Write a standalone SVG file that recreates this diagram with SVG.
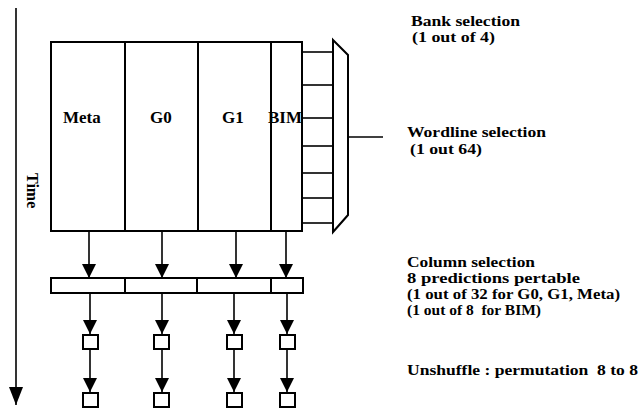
<svg xmlns="http://www.w3.org/2000/svg" width="639" height="409" viewBox="0 0 639 409">
<style>
.box{fill:#fff;stroke:#000;stroke-width:2}
.ln{fill:none;stroke:#000;stroke-width:1.6}
.lbl{font-family:"Liberation Serif","Times New Roman",serif;font-weight:bold;font-size:17px;fill:#000}
.note{font-family:"Liberation Serif","Times New Roman",serif;font-weight:bold;font-size:15px;fill:#000}
</style>
<defs>
<marker id="ah" markerUnits="userSpaceOnUse" markerWidth="14" markerHeight="16" refX="14" refY="7" orient="auto">
<path d="M0,0 L14,7 L0,14 Z" fill="#000"/>
</marker>
<marker id="ahBig" markerUnits="userSpaceOnUse" markerWidth="18" markerHeight="14" refX="18" refY="7" orient="auto">
<path d="M0,0 L18,7 L0,14 Z" fill="#000"/>
</marker>
</defs>
<rect width="639" height="409" fill="#fff"/>

<g id="time-axis">
<line class="ln" x1="16" y1="8" x2="16" y2="405" marker-end="url(#ahBig)"/>
<text transform="translate(27,173) rotate(90)" font-family="Liberation Serif,'Times New Roman',serif" font-weight="bold" font-size="16">Time</text>
</g>

<g id="meta"><rect class="box" x="51" y="42" width="74" height="189"/><text class="lbl" x="63" y="123">Meta</text></g>
<g id="g0"><rect class="box" x="125" y="42" width="73" height="189"/><text class="lbl" x="150" y="123">G0</text></g>
<g id="g1"><rect class="box" x="198" y="42" width="73" height="189"/><text class="lbl" x="222" y="123">G1</text></g>
<g id="bim"><rect class="box" x="271" y="42" width="31" height="189"/><text class="lbl" x="268" y="123">BIM</text></g>

<g id="wordlines">
<line class="ln" x1="302" y1="52" x2="333" y2="52"/>
<line class="ln" x1="302" y1="85" x2="333" y2="85"/>
<line class="ln" x1="302" y1="118" x2="333" y2="118"/>
<line class="ln" x1="302" y1="146" x2="333" y2="146"/>
<line class="ln" x1="302" y1="173" x2="333" y2="173"/>
<line class="ln" x1="302" y1="198" x2="333" y2="198"/>
<line class="ln" x1="302" y1="223" x2="333" y2="223"/>
</g>

<g id="mux">
<path class="box" d="M333,40 L348,55 L348,215 L333,232 Z"/>
<line class="ln" x1="348" y1="137" x2="383" y2="137"/>
</g>

<g id="column-select">
<rect class="box" x="51" y="278" width="74" height="15"/>
<rect class="box" x="125" y="278" width="72" height="15"/>
<rect class="box" x="197" y="278" width="74" height="15"/>
<rect class="box" x="271" y="278" width="32" height="15"/>
</g>

<g id="perm-boxes">
<rect class="box" x="83" y="335" width="15" height="14"/>
<rect class="box" x="154" y="335" width="15" height="14"/>
<rect class="box" x="227" y="335" width="15" height="14"/>
<rect class="box" x="280" y="335" width="15" height="14"/>
<rect class="box" x="83" y="393" width="15" height="14"/>
<rect class="box" x="154" y="393" width="15" height="14"/>
<rect class="box" x="227" y="393" width="15" height="14"/>
<rect class="box" x="280" y="393" width="15" height="14"/>
</g>

<g id="connectors">
<line class="ln" x1="89" y1="231" x2="89" y2="278" marker-end="url(#ah)"/>
<line class="ln" x1="162" y1="231" x2="162" y2="278" marker-end="url(#ah)"/>
<line class="ln" x1="236" y1="231" x2="236" y2="278" marker-end="url(#ah)"/>
<line class="ln" x1="286" y1="231" x2="286" y2="278" marker-end="url(#ah)"/>
<line class="ln" x1="90" y1="293" x2="90" y2="334" marker-end="url(#ah)"/>
<line class="ln" x1="162" y1="293" x2="162" y2="334" marker-end="url(#ah)"/>
<line class="ln" x1="234" y1="293" x2="234" y2="334" marker-end="url(#ah)"/>
<line class="ln" x1="287" y1="293" x2="287" y2="334" marker-end="url(#ah)"/>
<line class="ln" x1="90" y1="349" x2="90" y2="392" marker-end="url(#ah)"/>
<line class="ln" x1="162" y1="349" x2="162" y2="392" marker-end="url(#ah)"/>
<line class="ln" x1="234" y1="349" x2="234" y2="392" marker-end="url(#ah)"/>
<line class="ln" x1="287" y1="349" x2="287" y2="392" marker-end="url(#ah)"/>
</g>

<g id="labels">
<text class="note" x="411" y="26" textLength="109" lengthAdjust="spacingAndGlyphs">Bank selection</text>
<text class="note" x="412" y="42" textLength="83" lengthAdjust="spacingAndGlyphs">(1 out of 4)</text>
<text class="note" x="407" y="137" textLength="139" lengthAdjust="spacingAndGlyphs">Wordline selection</text>
<text class="note" x="410" y="154" textLength="72" lengthAdjust="spacingAndGlyphs">(1 out 64)</text>
<text class="note" x="407" y="267" textLength="128" lengthAdjust="spacingAndGlyphs">Column selection</text>
<text class="note" x="407" y="283" textLength="173" lengthAdjust="spacingAndGlyphs">8 predictions pertable</text>
<text class="note" x="407" y="299" textLength="213" lengthAdjust="spacingAndGlyphs">(1 out of 32 for G0, G1, Meta)</text>
<text class="note" x="407" y="315" textLength="134" lengthAdjust="spacingAndGlyphs" xml:space="preserve">(1 out of 8  for BIM)</text>
<text class="note" x="407" y="375" textLength="231" lengthAdjust="spacingAndGlyphs" xml:space="preserve">Unshuffle : permutation  8 to 8</text>
</g>
</svg>
